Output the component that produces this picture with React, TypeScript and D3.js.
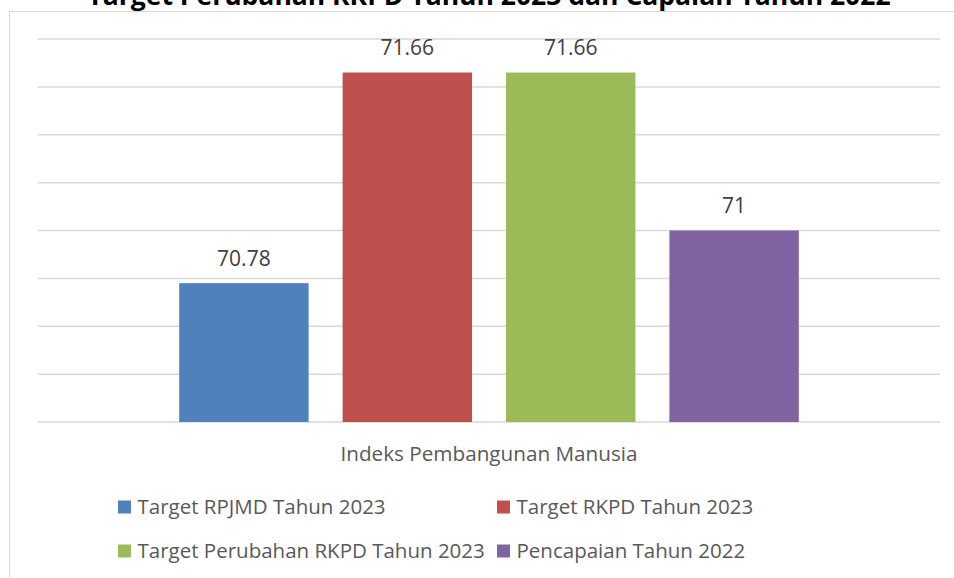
import React from "react";
import * as d3 from "d3";

const title = "Target Perubahan RKPD Tahun 2023 dan Capaian Tahun 2022";
const category = "Indeks Pembangunan Manusia";
const seriesNames = [
  "Target RPJMD Tahun 2023",
  "Target RKPD Tahun 2023",
  "Target Perubahan RKPD Tahun 2023",
  "Pencapaian Tahun 2022",
];
const seriesValues = [70.78, 71.66, 71.66, 71];
const valueLabels = ["70.78", "71.66", "71.66", "71"];
const seriesColors = ["#4F81BD", "#C0504D", "#9BBB59", "#8064A2"];
const yDomain = [70.2, 71.8];

const W = 954;
const H = 578;
const FONT = "'Open Sans', sans-serif";

export default function App() {
  const plotLeft = 38;
  const plotRight = 940;
  const plotTop = 39;
  const plotBottom = 422;

  const y = d3.scaleLinear().domain(yDomain).range([plotBottom, plotTop]);
  const x = d3
    .scaleBand<string>()
    .domain(seriesNames)
    .range([plotLeft, plotRight])
    .paddingInner(0.208)
    .paddingOuter(0.864);

  const ticks = y.ticks(8);

  const legendCols = [118, 497];
  const legendRows = [514, 558];

  return (
    <svg
      width={W}
      height={H}
      style={{ position: "absolute", left: 0, top: 0, display: "block", background: "#fff" }}
    >
      <rect x={9.5} y={11.5} width={990} height={600} fill="#fff" stroke="#D9D9D9" strokeWidth={1} />
      <text
        x={489}
        y={5}
        textAnchor="middle"
        fontFamily={FONT}
        fontWeight="bold"
        fontSize={26.5}
        fill="#000"
      >
        {title}
      </text>
      {ticks.map((t) => (
        <line
          key={t}
          x1={plotLeft}
          x2={plotRight}
          y1={y(t)}
          y2={y(t)}
          stroke="#D9D9D9"
          strokeWidth={1.5}
        />
      ))}
      {seriesNames.map((s, i) => (
        <g key={s}>
          <rect
            x={x(s)}
            y={y(seriesValues[i])}
            width={x.bandwidth()}
            height={plotBottom - y(seriesValues[i])}
            fill={seriesColors[i]}
          />
          <text
            x={(x(s) as number) + x.bandwidth() / 2}
            y={y(seriesValues[i]) - 17.5}
            textAnchor="middle"
            fontFamily={FONT}
            fontSize={21}
            fill="#404040"
          >
            {valueLabels[i]}
          </text>
        </g>
      ))}
      <text
        x={489}
        y={461}
        textAnchor="middle"
        fontFamily={FONT}
        fontSize={20.7}
        fill="#595959"
      >
        {category}
      </text>
      {seriesNames.map((s, i) => {
        const cx = legendCols[i % 2];
        const by = legendRows[Math.floor(i / 2)];
        return (
          <g key={"lg" + s}>
            <rect x={cx} y={by - 13.5} width={13} height={13} fill={seriesColors[i]} />
            <text x={cx + 19.5} y={by} fontFamily={FONT} fontSize={20.5} fill="#595959">
              {s}
            </text>
          </g>
        );
      })}
    </svg>
  );
}
